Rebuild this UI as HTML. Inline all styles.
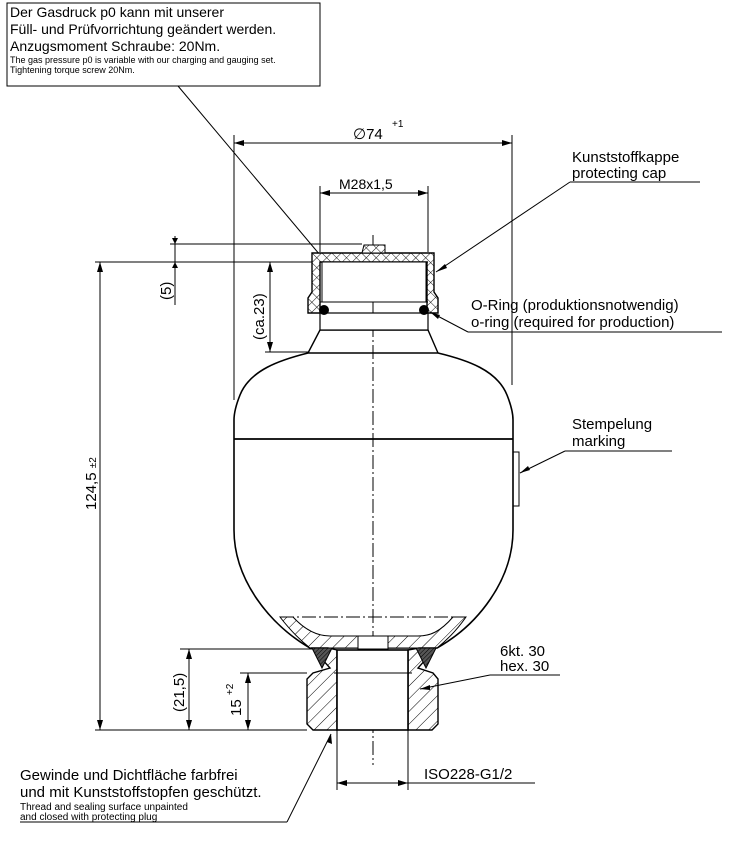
<!DOCTYPE html>
<html><head><meta charset="utf-8"><style>
html,body{margin:0;padding:0;background:#fff}
svg{display:block}
text{font-family:"Liberation Sans",Arial,sans-serif;fill:#000}
</style></head><body>
<svg width="734" height="841" viewBox="0 0 734 841" xmlns="http://www.w3.org/2000/svg">
<defs>
<pattern id="h" width="9" height="9" patternUnits="userSpaceOnUse" patternTransform="rotate(45)">
<rect width="9" height="9" fill="#fff"/><line x1="0" y1="0" x2="0" y2="9" stroke="#000" stroke-width="1"/></pattern>
<pattern id="x" width="7" height="7" patternUnits="userSpaceOnUse" patternTransform="rotate(45)">
<rect width="7" height="7" fill="#fff"/><line x1="0" y1="0" x2="0" y2="7" stroke="#000" stroke-width="0.9"/><line x1="0" y1="0" x2="7" y2="0" stroke="#000" stroke-width="0.9"/></pattern>
<pattern id="d" width="3" height="3" patternUnits="userSpaceOnUse" patternTransform="rotate(45)">
<rect width="3" height="3" fill="#555"/><line x1="0" y1="0" x2="0" y2="3" stroke="#000" stroke-width="1"/></pattern>
</defs>
<g stroke="#000" fill="none" stroke-width="1">
<rect x="7" y="3" width="313" height="83"/>
<line x1="178" y1="86" x2="320" y2="255"/>
<line x1="373" y1="235" x2="373" y2="765" stroke-dasharray="14,3,2,3"/>
<line x1="234" y1="135" x2="234" y2="400"/>
<line x1="512" y1="135" x2="512" y2="385"/>
<line x1="234" y1="143" x2="512" y2="143"/>
<line x1="320" y1="186" x2="320" y2="252"/>
<line x1="428" y1="186" x2="428" y2="252"/>
<line x1="320" y1="193" x2="428" y2="193"/>
<path d="M308,353 C280,360 250,370 240,395 C236,405 234,412 234,420 L234,530 C234,580 270,625 310,648 L437,648 C478,625 513,580 513,530 L513,420 C513,412 511,405 507,395 C497,370 467,360 438,353 Z" stroke-width="1.6"/>
<line x1="234" y1="439" x2="513" y2="439" stroke-width="1.8"/>
<path d="M280,617 C290,630 300,640 310,648 L437,648 C447,640 457,630 466,617 L453,617 C440,632 430,636 418,636 L330,636 C318,636 305,630 293,617 Z" fill="url(#h)"/>
<line x1="280" y1="617" x2="466" y2="617" stroke-dasharray="14,3,2,3"/>
<rect x="358" y="636" width="30" height="13" fill="#fff"/>
<path d="M308,353 L320,330 L428,330 L438,353" stroke-width="1.4"/>
<rect x="320" y="313" width="108" height="17" fill="#fff" stroke-width="1.2"/>
<path d="M312,253 L434,253 L434,292 L438,298 L438,313 L427,313 L427,262 L320,262 L320,313 L308,313 L308,298 L312,292 Z" fill="url(#x)" stroke-width="1.4"/>
<path d="M362,253 L364,245 L385,245 L385,253 Z" fill="url(#x)"/>
<rect x="322" y="262" width="104" height="40" fill="#fff"/>
<line x1="320" y1="302" x2="428" y2="302"/>
<line x1="320" y1="262" x2="428" y2="262"/>
<circle cx="324" cy="310" r="4.5" fill="#000"/>
<circle cx="424" cy="310" r="4.5" fill="#000"/>
<line x1="170" y1="244" x2="362" y2="244"/>
<line x1="95" y1="262" x2="312" y2="262"/>
<line x1="175" y1="236" x2="175" y2="305"/>
<line x1="270" y1="262" x2="270" y2="352"/>
<line x1="265" y1="352" x2="308" y2="352"/>
<line x1="100" y1="262" x2="100" y2="730"/>
<path d="M97,272 L100,262 L103,272 Z M97,720 L100,730 L103,720 Z M172,238 L175,244 L178,238 Z M172,268 L175,262 L178,268 Z M267,272 L270,262 L273,272 Z M267,342 L270,352 L273,342Z" fill="#000" stroke="none"/>
<path d="M328,648 L312,648 L330,668 L313,673 L307,679 L307,724 L313,730 L337,730 L337,650 Z" fill="url(#h)" stroke-width="1.4"/>
<path d="M419,648 L436,648 L418,668 L433,673 L438,679 L438,724 L432,730 L408,730 L408,650 Z" fill="url(#h)" stroke-width="1.4"/>
<path d="M312,648 L332,648 L322,668 Z" fill="url(#d)"/>
<path d="M436,648 L416,648 L426,668 Z" fill="url(#d)"/>
<rect x="337" y="650" width="71" height="80" fill="#fff" stroke-width="1.6"/>
<line x1="334" y1="673" x2="412" y2="673"/>
<line x1="95" y1="730" x2="307" y2="730"/>
<line x1="180" y1="649" x2="312" y2="649"/>
<line x1="240" y1="673" x2="307" y2="673"/>
<line x1="189" y1="649" x2="189" y2="730"/>
<line x1="248" y1="673" x2="248" y2="730"/>
<path d="M186,659 L189,649 L192,659 Z M186,720 L189,730 L192,720 Z M245,683 L248,673 L251,683 Z M245,720 L248,730 L251,720 Z" fill="#000" stroke="none"/>
<line x1="337" y1="730" x2="337" y2="790"/>
<line x1="408" y1="730" x2="408" y2="790"/>
<line x1="337" y1="783" x2="535" y2="783"/>
<path d="M347,780 L337,783 L347,786 Z M398,780 L408,783 L398,786 Z" fill="#000" stroke="none"/>
<line x1="570" y1="182" x2="700" y2="182"/>
<line x1="570" y1="182" x2="436" y2="272"/>
<line x1="468" y1="332" x2="722" y2="332"/>
<line x1="468" y1="332" x2="430" y2="312"/>
<line x1="565" y1="451" x2="672" y2="451"/>
<line x1="565" y1="451" x2="520" y2="473"/>
<rect x="513" y="452" width="6" height="54"/>
<line x1="490" y1="675" x2="560" y2="675"/>
<line x1="490" y1="675" x2="420" y2="689"/>
<line x1="20" y1="822" x2="287" y2="822"/>
<line x1="287" y1="822" x2="331" y2="734"/>
</g>
<path d="M244,140 L234,143 L244,146 Z M502,140 L512,143 L502,146 Z M330,190 L320,193 L330,196Z M418,190 L428,193 L418,196Z M436,272 L445,264 L447,268 Z M430,312 L440,315 L438,319 Z M520,473 L528,466 L530,470 Z M420,689 L430,685 L430,690 Z M331,734 L332,744 L327,742 Z" fill="#000"/>
<text x="10" y="17" font-size="14">Der Gasdruck p0 kann mit unserer</text>
<text x="10" y="34" font-size="14">Füll- und Prüfvorrichtung geändert werden.</text>
<text x="10" y="51" font-size="14">Anzugsmoment Schraube: 20Nm.</text>
<text x="10" y="63" font-size="9">The gas pressure p0 is variable with our charging and gauging set.</text>
<text x="10" y="73" font-size="9">Tightening torque screw 20Nm.</text>
<text x="353" y="139" font-size="15">∅74</text>
<text x="392" y="127" font-size="10">+1</text>
<text x="339" y="189" font-size="14">M28x1,5</text>
<text x="572" y="162" font-size="15">Kunststoffkappe</text>
<text x="572" y="178" font-size="15">protecting cap</text>
<text x="471" y="310" font-size="15">O-Ring (produktionsnotwendig)</text>
<text x="471" y="327" font-size="15">o-ring (required for production)</text>
<text x="572" y="429" font-size="15">Stempelung</text>
<text x="572" y="446" font-size="15">marking</text>
<text x="500" y="656" font-size="15">6kt. 30</text>
<text x="500" y="671" font-size="15">hex. 30</text>
<text x="424" y="779" font-size="15">ISO228-G1/2</text>
<text x="20" y="780" font-size="15">Gewinde und Dichtfläche farbfrei</text>
<text x="20" y="797" font-size="15">und mit Kunststoffstopfen geschützt.</text>
<text x="20" y="810" font-size="10">Thread and sealing surface unpainted</text>
<text x="20" y="820" font-size="10">and closed with protecting plug</text>
<text transform="translate(171,300) rotate(-90)" font-size="15">(5)</text>
<text transform="translate(264,340) rotate(-90)" font-size="15">(ca.23)</text>
<text transform="translate(96,510) rotate(-90)" font-size="15">124,5 <tspan font-size="10">±2</tspan></text>
<text transform="translate(184,712) rotate(-90)" font-size="15">(21,5)</text>
<text transform="translate(241,716) rotate(-90)" font-size="15">15 <tspan font-size="10" dy="-8">+2</tspan></text>
</svg>
</body></html>
